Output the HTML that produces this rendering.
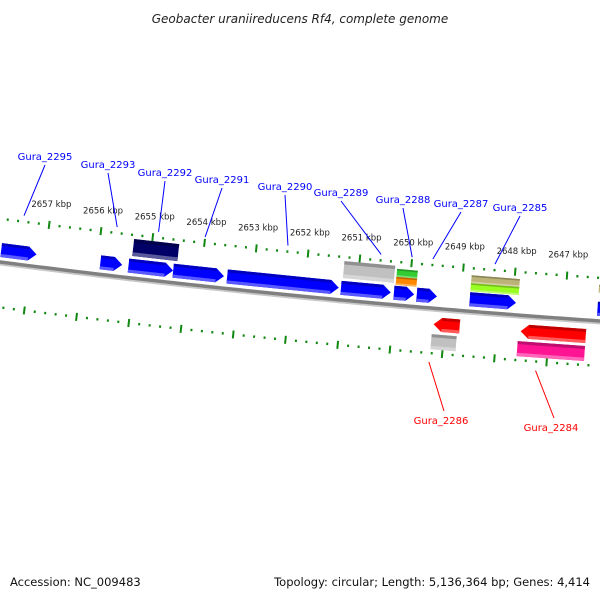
<!DOCTYPE html>
<html><head><meta charset="utf-8"><style>
html,body{margin:0;padding:0;background:#fff;}
svg{display:block;font-family:"DejaVu Sans","Liberation Sans",sans-serif;}
</style></head><body>
<svg id="map" width="600" height="600" viewBox="0 0 600 600">
<text x="300" y="23" text-anchor="middle" font-size="12" font-style="italic" fill="#222">Geobacter uraniireducens Rf4, complete genome</text>
<g id="g-ticks"></g>
<g id="g-backbone"></g>
<g id="g-genes"></g>
<g id="g-labels"></g>
<text x="10" y="586" font-size="11.5" fill="#111">Accession: NC_009483</text>
<text x="590" y="586" text-anchor="end" font-size="11.5" fill="#111">Topology: circular; Length: 5,136,364 bp; Genes: 4,414</text>
</svg>
<script>
// data (kbp)
const geneStart = [2657.85,2655.94,2655.40,2654.54,2653.50,2651.31,2650.29,2649.85,2648.83,2646.37, 2655.35,2651.29,2650.27,2650.27,2648.83,2648.83,2646.37, 2649.48,2649.50,2647.81,2647.85];
const geneEnd   = [2657.17,2655.52,2654.54,2653.56,2651.35,2650.35,2649.90,2649.46,2647.94,2645.90, 2654.48,2650.31,2649.87,2649.87,2647.90,2647.90,2645.90, 2648.98,2649.02,2646.56,2646.56];
const geneStrand= [1,1,1,1,1,1,1,1,1,1, 0,0,0,0,0,0,0, -1,0,-1,0];
const geneRow   = ["b","b","b","b","b","b","b","b","b","b", "u","u","u1","u2","u1","u2","u1", "r1","r2","r1","r2"];
const geneColor = ["#0000ff","#0000ff","#0000ff","#0000ff","#0000ff","#0000ff","#0000ff","#0000ff","#0000ff","#0000ff","#000066","#c0c0c0","#33cc33","#ff8800","#bbb377","#99ff22","#bbb377","#ff0000","#c0c0c0","#ff0000","#ff1493"];
const tickKbp = [2658,2657,2656,2655,2654,2653,2652,2651,2650,2649,2648,2647,2646];
const labelNames = ["Gura_2295","Gura_2293","Gura_2292","Gura_2291","Gura_2290","Gura_2289","Gura_2288","Gura_2287","Gura_2285","Gura_2286","Gura_2284"];
const labelKbp = [2657.5,2655.7,2654.9,2654.0,2652.4,2650.6,2650.0,2649.6,2648.4,2649.24,2647.2];
const labelStrand = [1,1,1,1,1,1,1,1,1,-1,-1];

const NS="http://www.w3.org/2000/svg";
const xOf = k => 44 + (2657 - k) * 52;
const yb = x => 261 + 0.1283*x - 0.00005*x*x;
const ang = x => Math.atan(0.1283 - 0.0001*x);
function pt(x, off){const a=ang(x);return [x - off*Math.sin(a), yb(x) + off*Math.cos(a)];}
function mk(tag, attrs, parent){const e=document.createElementNS(NS,tag);for(const k in attrs)e.setAttribute(k,attrs[k]);parent.appendChild(e);return e;}
function shade(hex,f){let c=hex.replace('#','');if(c.length==3)c=c.split('').map(s=>s+s).join('');const r=[0,2,4].map(i=>parseInt(c.substr(i,2),16));return 'rgb('+r.map(v=>Math.round(f>1?v+(255-v)*(f-1):v*f)).join(',')+')';}

// backbone
const gb=document.getElementById('g-backbone');
let d1='',d2='';
for(let x=-5;x<=605;x+=5){d1+=(x<0?'M':'L')+x+','+(yb(x)+1).toFixed(2)+' ';d2+=(x<0?'M':'L')+x+','+(yb(x)+3.5).toFixed(2)+' ';}
let bl=mk('path',{d:d2,stroke:'#c8c8c8','stroke-width':2,fill:'none'},gb);


let bm=mk('path',{d:d1,stroke:'#808080','stroke-width':3.5,fill:'none'},gb);



// ticks
const gt=document.getElementById('g-ticks');
const rows=[{off:-42,shift:0,name:'upper'},{off:46,shift:-14,name:'lower'}];
for(const r of rows){
  for(let i=0;i<tickKbp.length-1;i++){
    for(let j=0;j<5;j++){
      const x=xOf(tickKbp[i]-j*0.2)+r.shift;
      if(x<-5||x>605)continue;
      const a=pt(x,r.off-(j==0?4:1.2)),b=pt(x,r.off+(j==0?4:1.2));
      const t=mk('line',{x1:a[0],y1:a[1],x2:b[0],y2:b[1],stroke:'#118811','stroke-width':2},gt);
      
      
    }
  }
}
for(const k of tickKbp){
  const x=xOf(k); if(x<0||x>600)continue;
  const p=pt(x,-60);
  const t=mk('text',{x:p[0],y:p[1],'text-anchor':'middle','font-size':8.5,fill:'#222'},gt);
  t.textContent=k+' kbp';
  
  
}

// genes
const rowOff={b:[-18,-4],u:[-38,-21],u1:[-35,-27],u2:[-27,-19],r1:[10,24],r2:[27,42]};
const gg=document.getElementById('g-genes');
for(let i=0;i<geneStart.length;i++){
  const xa=xOf(geneStart[i]),xb=xOf(geneEnd[i]);
  const [t,bo]=rowOff[geneRow[i]];
  const st=geneStrand[i];
  const ah=Math.min(8,(xb-xa)*0.4);
  let poly=[];
  const mid=(t+bo)/2;
  if(st==1){poly=[pt(xa,t),pt(xb-ah,t),pt(xb,mid),pt(xb-ah,bo),pt(xa,bo)];}
  else if(st==-1){poly=[pt(xa+ah,t),pt(xb,t),pt(xb,bo),pt(xa+ah,bo),pt(xa,mid)];}
  else{poly=[pt(xa,t),pt(xb,t),pt(xb,bo),pt(xa,bo)];}
  const g=mk('g',{},gg);
  
  
  mk('polygon',{points:poly.map(p=>p[0].toFixed(1)+','+p[1].toFixed(1)).join(' '),fill:geneColor[i]},g);
  // top darker strip, bottom lighter strip
  const h=bo-t;
  const x1=st==-1?xa+ah:xa, x2=st==1?xb-ah:xb;
  const top=[pt(x1,t),pt(x2,t),pt(x2,t+h*0.2),pt(x1,t+h*0.2)];
  mk('polygon',{points:top.map(p=>p.join(',')).join(' '),fill:shade(geneColor[i],0.75)},g);
  const bot=[pt(x1,bo-h*0.22),pt(x2,bo-h*0.22),pt(x2,bo),pt(x1,bo)];
  mk('polygon',{points:bot.map(p=>p.join(',')).join(' '),fill:shade(geneColor[i],1.35)},g);
}

// labels
const gl=document.getElementById('g-labels');
const labelPos=[[45,160],[108,168],[165,176],[222,183],[285,190],[341,196],[403,203],[461,207],[520,211],[441,424],[551,431]];
for(let i=0;i<labelNames.length;i++){
  const x=xOf(labelKbp[i]);
  const col=labelStrand[i]==1?'#0000ff':'#ff0000';
  const [lx,ly]=labelPos[i];
  const g=mk('g',{},gl);
  
  
  let a,b;
  if(labelStrand[i]==1){a=pt(x,-48);b=[lx,ly+5];}
  else{a=pt(x-14,55);b=[lx+3,ly-13];}
  mk('line',{x1:a[0],y1:a[1],x2:b[0],y2:b[1],stroke:col,'stroke-width':1},g);
  const t=mk('text',{x:lx,y:ly,'text-anchor':'middle','font-size':10,fill:col},g);
  t.textContent=labelNames[i];
}
</script>
</body></html>
